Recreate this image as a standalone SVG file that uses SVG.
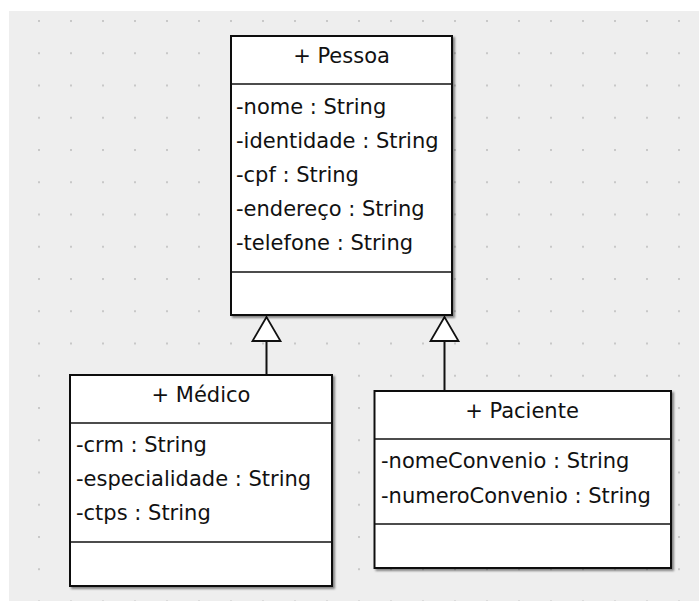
<svg xmlns="http://www.w3.org/2000/svg" width="699" height="601" viewBox="0 0 699 601">
<style>
.box{fill:#fff;stroke:#111;stroke-width:2;filter:url(#sh)}
.sep{stroke:#111;stroke-width:1.6}
.t{font-family:"DejaVu Sans","Liberation Sans",sans-serif;font-size:21px;fill:#111}
.c{text-anchor:middle}
.con{stroke:#111;stroke-width:2;fill:none}
.tri{fill:#fff;stroke:#111;stroke-width:1.8;stroke-linejoin:miter}
</style>
<defs>
<pattern id="dots" patternUnits="userSpaceOnUse" x="38" y="20" width="32" height="32.25">
<rect x="0" y="0" width="2" height="2" fill="#c8c8c8"/>
</pattern>
<filter id="sh" x="-5%" y="-5%" width="115%" height="115%">
<feDropShadow dx="2" dy="2" stdDeviation="1" flood-color="#000" flood-opacity="0.45"/>
</filter>
</defs>
<rect x="0" y="0" width="699" height="601" fill="#fff"/>
<rect x="9" y="11" width="690" height="590" fill="#eeeeee"/>
<rect x="9" y="11" width="690" height="590" fill="url(#dots)"/>

<g id="connectors">
<line class="con" x1="266.5" y1="375" x2="266.5" y2="341"/>
<polygon class="tri" points="266.5,317 252.5,341 280.5,341"/>
<line class="con" x1="444.5" y1="391" x2="444.5" y2="341"/>
<polygon class="tri" points="444.5,317 430.5,341 458.5,341"/>
</g>

<g id="pessoa">
<rect class="box" x="231" y="36" width="221" height="279"/>
<line class="sep" x1="231" y1="84" x2="452" y2="84"/>
<line class="sep" x1="231" y1="272" x2="452" y2="272"/>
<text class="t c" x="341.5" y="63">+ Pessoa</text>
<text class="t" x="236" y="114">-nome : String</text>
<text class="t" x="236" y="148">-identidade : String</text>
<text class="t" x="236" y="182">-cpf : String</text>
<text class="t" x="236" y="216">-endereço : String</text>
<text class="t" x="236" y="250">-telefone : String</text>
</g>

<g id="medico">
<rect class="box" x="70" y="375" width="262" height="211"/>
<line class="sep" x1="70" y1="423" x2="332" y2="423"/>
<line class="sep" x1="70" y1="542" x2="332" y2="542"/>
<text class="t c" x="201" y="401.5">+ Médico</text>
<text class="t" x="76" y="452">-crm : String</text>
<text class="t" x="76" y="486">-especialidade : String</text>
<text class="t" x="76" y="520">-ctps : String</text>
</g>

<g id="paciente">
<rect class="box" x="374.5" y="391" width="296.5" height="177"/>
<line class="sep" x1="374.5" y1="439" x2="671" y2="439"/>
<line class="sep" x1="374.5" y1="524" x2="671" y2="524"/>
<text class="t c" x="522" y="418">+ Paciente</text>
<text class="t" x="381" y="468">-nomeConvenio : String</text>
<text class="t" x="381" y="502.5">-numeroConvenio : String</text>
</g>
</svg>
